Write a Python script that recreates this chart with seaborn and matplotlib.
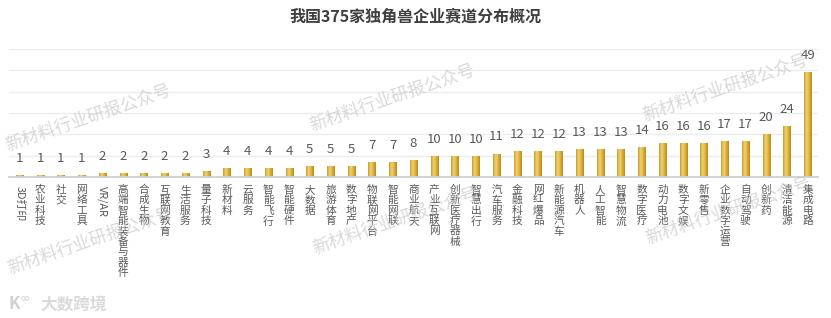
import numpy as np
import pandas as pd
import matplotlib
matplotlib.use("Agg")
import matplotlib.pyplot as plt
from matplotlib.colors import LinearSegmentedColormap
import seaborn as sns

categories = ["3D打印", "农业科技", "社交", "网络工具", "VR/AR", "高端智能装备与器件", "合成生物",
              "互联网教育", "生活服务", "量子科技", "新材料", "云服务", "智能飞行", "智能硬件",
              "大数据", "旅游体育", "数字地产", "物联网平台", "智能网联", "商业航天", "产业互联网",
              "创新医疗器械", "智慧出行", "汽车服务", "金融科技", "网红爆品", "新能源汽车", "机器人",
              "人工智能", "智慧物流", "数字医疗", "动力电池", "数字文娱", "新零售", "企业数字运营",
              "自动驾驶", "创新药", "清洁能源", "集成电路"]
values = [1, 1, 1, 1, 2, 2, 2, 2, 2, 3, 4, 4, 4, 4, 5, 5, 5, 7, 7, 8, 10, 10, 10, 11,
          12, 12, 12, 13, 13, 13, 14, 16, 16, 16, 17, 17, 20, 24, 49]
title = "我国375家独角兽企业赛道分布概况"
watermark = "新材料行业研报公众号"
logo = "大数跨境"

sns.set_theme(style="white")
plt.rcParams['font.family'] = ['Noto Sans CJK SC', 'DejaVu Sans']

W, H = 831, 318
fig = plt.figure(figsize=(W / 100, H / 100), dpi=100)
fig.patch.set_facecolor("white")
ax = fig.add_axes([9 / W, 1 - 177 / H, (818 - 9) / W, (177 - 49) / H])

df = pd.DataFrame({"cat": categories, "val": values})
sns.barplot(data=df, x="cat", y="val", width=0.34, color="#D6AE35", ax=ax, zorder=3)

ax.set_xlim(-0.5, len(categories) - 0.5)
ax.set_ylim(0, 60)
ax.set_yticks(np.arange(0, 61, 10))
ax.set_yticklabels([])
ax.set_xticklabels([])
ax.set_xlabel("")
ax.set_ylabel("")
ax.tick_params(length=0)
ax.yaxis.grid(True, color="#ECECEC", linewidth=1.0, zorder=0)
ax.set_axisbelow(True)
for s in ["top", "right", "left"]:
    ax.spines[s].set_visible(False)
ax.spines["bottom"].set_color("#D0D0D0")
ax.spines["bottom"].set_linewidth(1.3)
ax.spines["bottom"].set_zorder(5)

# gradient fill for bars
cmap = LinearSegmentedColormap.from_list("gold", ["#C99A1F", "#EFD47C", "#DDB238", "#B8871A"])
grad = np.linspace(0, 1, 64).reshape(1, -1)
for p in ax.patches:
    x0, y0 = p.get_x(), p.get_y()
    w, h = p.get_width(), p.get_height()
    im = ax.imshow(grad, cmap=cmap, extent=[x0, x0 + w, y0, y0 + h], aspect="auto",
                   zorder=4, interpolation="bicubic")
    im.set_clip_path(p)
    p.set_facecolor("none")
    p.set_edgecolor("none")
ax.set_xlim(-0.5, len(categories) - 0.5)
ax.set_ylim(0, 60)

# data labels
for i, v in enumerate(values):
    ax.annotate(str(v), xy=(i, v), xytext=(0, 9.4), textcoords="offset points",
                ha="center", va="baseline", fontsize=9.5, color="#595959", zorder=6)

# category labels (vertical, stacked CJK)
step = 7.5
top_off = 5.6
for i, lab in enumerate(categories):
    if any(ord(c) < 128 for c in lab):
        ax.annotate(lab, xy=(i, 0), xycoords=("data", "axes fraction"),
                    xytext=(0, -top_off - 1), textcoords="offset points",
                    ha="center", va="top", rotation=-90, fontsize=7.8, color="#595959")
    else:
        for k, ch in enumerate(lab):
            ax.annotate(ch, xy=(i, 0), xycoords=("data", "axes fraction"),
                        xytext=(0, -top_off - k * step), textcoords="offset points",
                        ha="center", va="top", fontsize=7.7, color="#595959")

# title
fig.text(0.5, 1 - 17 / H, title, ha="center", va="center", fontsize=11.5,
         fontweight="bold", color="#3F3F3F")

# watermarks
for (x, y) in [(8, 150), (10, 273), (312, 130), (315, 253), (645, 120), (648, 243)]:
    fig.text(x / W, 1 - y / H, watermark, rotation=19, rotation_mode="anchor",
             ha="left", va="baseline", fontsize=12.5, color="#C8C8C8", alpha=0.7, zorder=10)

# logo
fig.text(8 / W, 1 - 304 / H, "K", ha="left", va="center", fontsize=12, fontweight="bold",
         color="#D0D0D0")
fig.text(20 / W, 1 - 298 / H, "∞", ha="left", va="center", fontsize=9,
         color="#D0D0D0", family=["DejaVu Sans"])
fig.text(40 / W, 1 - 304 / H, logo, ha="left", va="center", fontsize=12, fontweight="bold",
         color="#DADADA")

fig.savefig("out.png", dpi=100, facecolor="white")
